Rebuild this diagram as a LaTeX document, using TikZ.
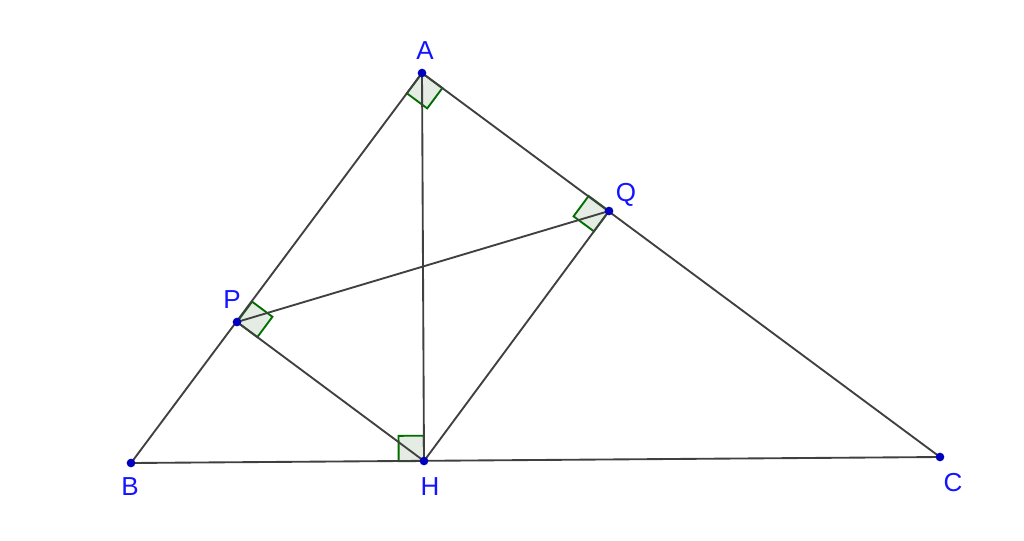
\documentclass[tikz,border=0pt]{standalone}
\usepackage{fontspec}
\setmainfont{Liberation Sans}
\usetikzlibrary{calc}
\definecolor{segcol}{RGB}{64,64,64}
\definecolor{markgreen}{RGB}{0,110,0}
\definecolor{markfill}{RGB}{228,236,228}
\definecolor{ptcol}{RGB}{0,0,190}
\definecolor{labcol}{RGB}{20,20,255}
\tikzset{
  seg/.style={draw=segcol, line width=1.4pt},
  ramark/.style={draw=markgreen, fill=markfill, line width=1.4pt},
  pt/.style={circle, fill=ptcol, inner sep=0pt, minimum size=6.5pt},
  lab/.style={text=labcol, font=\fontsize{19.5}{19.5}\selectfont, inner sep=0pt}
}
\newcommand\rtanglemark[3]{%
  \path ($(#1)!19pt!(#2)$) coordinate (ra1) ($(#1)!19pt!(#3)$) coordinate (ra2);
  \path[ramark] (#1) -- (ra1) -- ($(ra1)+(ra2)-(#1)$) -- (ra2) -- cycle;
}
\begin{document}
\begin{tikzpicture}[x=0.75pt,y=-0.75pt]
\useasboundingbox (0,0) rectangle (1024,540);
\fill[white] (0,0) rectangle (1024,540);
\coordinate (A) at (422,73);
\coordinate (B) at (131,463);
\coordinate (C) at (940,457);
\coordinate (H) at (424,461);
\coordinate (P) at (237,322);
\coordinate (Q) at (609,211);
\rtanglemark{A}{B}{C}
\rtanglemark{Q}{A}{H}
\rtanglemark{P}{A}{H}
\rtanglemark{H}{B}{A}
\draw[seg] (A) -- (B);
\draw[seg] (A) -- (C);
\draw[seg] (B) -- (C);
\draw[seg] (A) -- (H);
\draw[seg] (H) -- (P);
\draw[seg] (H) -- (Q);
\draw[seg] (P) -- (Q);
\node[pt] (nA) at (A) {};
\node[pt] (nB) at (B) {};
\node[pt] (nC) at (C) {};
\node[pt] (nH) at (H) {};
\node[pt] (nP) at (P) {};
\node[pt] (nQ) at (Q) {};
\node[lab] (lA) at (425,51) {A};
\node[lab] (lB) at (130,487) {B};
\node[lab] (lC) at (953,483) {C};
\node[lab] (lH) at (430,487) {H};
\node[lab] (lP) at (232,300) {P};
\node[lab] (lQ) at (626,195) {Q};
\end{tikzpicture}
\end{document}
